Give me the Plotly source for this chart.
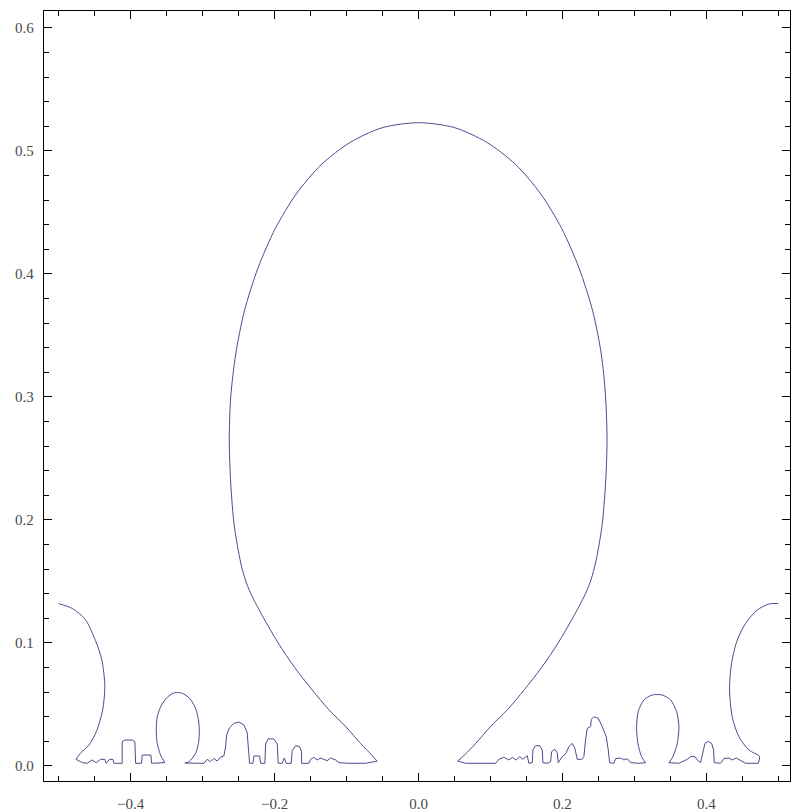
import plotly.graph_objects as go

# ---- contour (x, y in data units) ----
left_lobe_x = [-0.500, -0.481, -0.463, -0.449, -0.440, -0.436, -0.439, -0.447, -0.458, -0.470, -0.476]
left_lobe_y = [0.132, 0.128, 0.119, 0.102, 0.086, 0.0645, 0.0455, 0.029, 0.017, 0.0103, 0.0054]

left_base_x = [-0.467, -0.4605, -0.4535, -0.448, -0.4419, -0.4359, -0.4341, -0.4294, -0.4247, -0.4234,
               -0.4118, -0.4118, -0.4081, -0.3979, -0.3942, -0.3932, -0.3849, -0.3840, -0.3719, -0.3710, -0.3525]
left_base_y = [0.0027, 0.0022, 0.0049, 0.0027, 0.0054, 0.0054, 0.0022, 0.0054, 0.0054, 0.0022,
               0.0022, 0.0198, 0.0211, 0.0211, 0.0198, 0.0022, 0.0022, 0.0089, 0.0089, 0.0022, 0.0027]

omega1_x = [-0.3585, -0.3631, -0.3645, -0.3631, -0.3571, -0.3492, -0.3386, -0.3284, -0.3182, -0.3098,
            -0.3052, -0.3052, -0.3098, -0.3191, -0.3247]
omega1_y = [0.0089, 0.0184, 0.0293, 0.0401, 0.0496, 0.0558, 0.0596, 0.0591, 0.0550, 0.0469,
            0.0347, 0.0211, 0.0103, 0.0035, 0.0024]

mid_left_x = [-0.3052, -0.2983, -0.2937, -0.2890, -0.2844, -0.2798, -0.2751, -0.2705,
              -0.2681, -0.2667, -0.2626, -0.2566, -0.2496, -0.2427, -0.2381, -0.2367, -0.2348,
              -0.2302, -0.2288, -0.2209, -0.2195, -0.2135,
              -0.2125, -0.2089, -0.2010, -0.1963, -0.1950, -0.1894, -0.1866, -0.1839, -0.1769,
              -0.1755, -0.1708, -0.1653, -0.1625, -0.1625, -0.1523,
              -0.1500, -0.1454, -0.1408, -0.1361, -0.1315, -0.1269, -0.1222, -0.1152, -0.1106,
              -0.0967, -0.0735, -0.0575]
mid_left_y = [0.0022, 0.0022, 0.0054, 0.0035, 0.0062, 0.0040, 0.0073, 0.0081,
              0.0157, 0.0252, 0.0312, 0.0346, 0.0358, 0.0333, 0.0271, 0.0157, 0.0022,
              0.0022, 0.0081, 0.0081, 0.0022, 0.0022,
              0.0179, 0.0220, 0.0220, 0.0179, 0.0022, 0.0022, 0.0065, 0.0022, 0.0022,
              0.0125, 0.0165, 0.0157, 0.0116, 0.0022, 0.0022,
              0.0054, 0.0070, 0.0049, 0.0065, 0.0054, 0.0043, 0.0065, 0.0049, 0.0027,
              0.0022, 0.0022, 0.0040]

main_x = [-0.066, -0.080, -0.101, -0.125, -0.148, -0.172, -0.195, -0.215, -0.233, -0.241, -0.247, -0.256,
          -0.261, -0.263, -0.261, -0.254, -0.242, -0.223, -0.199, -0.170, -0.135, -0.095, -0.050,
          0.0,
          0.050, 0.095, 0.135, 0.170, 0.199, 0.223, 0.242, 0.254, 0.260, 0.262, 0.260, 0.255,
          0.246, 0.240, 0.232, 0.214, 0.194, 0.171, 0.147, 0.124, 0.100, 0.079, 0.065, 0.0545]
main_y = [0.0095, 0.018, 0.032, 0.046, 0.062, 0.080, 0.100, 0.120, 0.140, 0.152, 0.165, 0.195,
          0.230, 0.265, 0.300, 0.335, 0.370, 0.405, 0.437, 0.465, 0.489, 0.507, 0.519,
          0.523,
          0.519, 0.507, 0.489, 0.465, 0.437, 0.405, 0.370, 0.335, 0.300, 0.265, 0.230, 0.195,
          0.165, 0.152, 0.140, 0.120, 0.100, 0.080, 0.062, 0.046, 0.032, 0.018, 0.0095, 0.004]

mid_right_x = [0.0654, 0.1071, 0.1117, 0.1187, 0.1256, 0.1303, 0.1358, 0.1405, 0.1451, 0.1511, 0.1534,
               0.1581, 0.1590, 0.1627, 0.1683, 0.1720, 0.1729, 0.1789,
               0.1836, 0.1849, 0.1896, 0.1928, 0.1942,
               0.1998, 0.2044, 0.2090, 0.2137, 0.2174, 0.2206, 0.2266, 0.2298,
               0.2322, 0.2345, 0.2392, 0.2401, 0.2438, 0.2498, 0.2554, 0.2609, 0.2637, 0.2656,
               0.2716, 0.2739, 0.2809, 0.2855, 0.2901, 0.2947, 0.3063, 0.3156]
mid_right_y = [0.0022, 0.0022, 0.0054, 0.0070, 0.0049, 0.0070, 0.0049, 0.0076, 0.0054, 0.0084, 0.0022,
               0.0027, 0.0130, 0.0165, 0.0165, 0.0130, 0.0027, 0.0022,
               0.0035, 0.0116, 0.0135, 0.0108, 0.0027,
               0.0076, 0.0097, 0.0157, 0.0184, 0.0143, 0.0054, 0.0054, 0.0076,
               0.0211, 0.0306, 0.0320, 0.0379, 0.0401, 0.0388, 0.0320, 0.0238, 0.0130, 0.0027,
               0.0022, 0.0060, 0.0065, 0.0049, 0.0060, 0.0027, 0.0022, 0.0027]

omega2_x = [0.3100, 0.3049, 0.3031, 0.3054, 0.3133, 0.3248, 0.3387, 0.3503, 0.3587, 0.3619,
            0.3596, 0.3536, 0.3480]
omega2_y = [0.0076, 0.0184, 0.0320, 0.0442, 0.0537, 0.0577, 0.0577, 0.0537, 0.0442, 0.0320,
            0.0184, 0.0076, 0.0027]

right_base_x = [0.3619, 0.3735, 0.3782, 0.3842, 0.3874, 0.3920,
                0.3953, 0.3981, 0.4027, 0.4073, 0.4101, 0.4110, 0.4198,
                0.4245, 0.4314, 0.4361, 0.4416, 0.4476, 0.4546, 0.4722]
right_base_y = [0.0022, 0.0054, 0.0076, 0.0076, 0.0049, 0.0027,
                0.0130, 0.0184, 0.0200, 0.0184, 0.0130, 0.0027, 0.0022,
                0.0060, 0.0065, 0.0049, 0.0065, 0.0043, 0.0022, 0.0022]

right_lobe_x = [0.4740, 0.4592, 0.4453, 0.4360, 0.4323, 0.4351, 0.4430, 0.4546, 0.4708, 0.4870, 0.5000]
right_lobe_y = [0.0076, 0.0130, 0.0238, 0.0401, 0.0618, 0.0835, 0.1024, 0.1160, 0.1268, 0.1317, 0.1322]

x_ticks = [-0.4, -0.2, 0.0, 0.2, 0.4]
y_ticks = [0.0, 0.1, 0.2, 0.3, 0.4, 0.5, 0.6]

# (segment x, segment y, smooth?)
segments = [
    (left_lobe_x, left_lobe_y, True),
    (left_base_x, left_base_y, False),
    (omega1_x, omega1_y, True),
    (mid_left_x, mid_left_y, False),
    (main_x, main_y, True),
    (mid_right_x, mid_right_y, False),
    (omega2_x, omega2_y, True),
    (right_base_x, right_base_y, False),
    (right_lobe_x, right_lobe_y, True),
]

LINE_COLOR = "#4c4c8e"
fig = go.Figure()
prev = None
for sx, sy, smooth in segments:
    xs = list(sx)
    ys = list(sy)
    if prev is not None:
        xs = [prev[0]] + xs
        ys = [prev[1]] + ys
    prev = (sx[-1], sy[-1])
    fig.add_trace(go.Scatter(
        x=xs, y=ys, mode="lines",
        line=dict(color=LINE_COLOR, width=1,
                  shape="spline" if smooth else "linear",
                  smoothing=0.8 if smooth else None),
        hoverinfo="skip", showlegend=False))

axis_common = dict(
    showgrid=False, zeroline=False, showline=True, linecolor="black", linewidth=1.3,
    mirror="ticks", ticks="inside", ticklen=8, tickwidth=1.2, tickcolor="black",
    tickfont=dict(family="Liberation Serif, Times New Roman, serif", size=15, color="#4a4a4a"),
    tickformat=".1f",
)
fig.update_xaxes(range=[-0.5205, 0.5163], tickvals=x_ticks,
                 minor=dict(dtick=0.05, tick0=0, ticks="inside", ticklen=4.5, tickcolor="black", tickwidth=1),
                 ticklabelstandoff=9, **axis_common)
fig.update_yaxes(range=[-0.0122, 0.6138], tickvals=y_ticks,
                 minor=dict(dtick=0.02, tick0=0, ticks="inside", ticklen=4.5, tickcolor="black", tickwidth=1),
                 ticklabelstandoff=6, **axis_common)
fig.update_layout(width=791, height=812, margin=dict(l=44, r=1, t=11, b=31),
                  paper_bgcolor="white", plot_bgcolor="white")
fig.write_html("out.html")
